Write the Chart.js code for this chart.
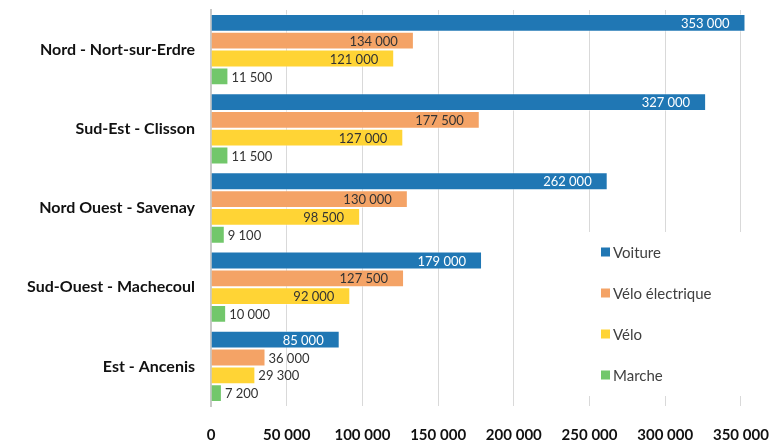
<!DOCTYPE html>
<html>
<head>
<meta charset="utf-8">
<script src="https://cdn.jsdelivr.net/npm/chart.js@4.4.1/dist/chart.umd.min.js"></script>
<style>
  html, body { margin: 0; padding: 0; background: #fff; }
  #wrap { width: 771px; height: 441px; position: relative; }
</style>
</head>
<body>
<div id="wrap"><canvas id="chart"></canvas></div>
<script>
const categories = ["Nord - Nort-sur-Erdre", "Sud-Est - Clisson", "Nord Ouest - Savenay", "Sud-Ouest - Machecoul", "Est - Ancenis"];
const seriesNames = ["Voiture", "Vélo électrique", "Vélo", "Marche"];
const voiture = [353000, 327000, 262000, 179000, 85000];
const veloElectrique = [134000, 177500, 130000, 127500, 36000];
const velo = [121000, 127000, 98500, 92000, 29300];
const marche = [11500, 11500, 9100, 10000, 7200];
const tickValues = [0, 50000, 100000, 150000, 200000, 250000, 300000, 350000];

const colors = ["#2077b4", "#f4a366", "#ffd435", "#72c76b"];
const fmt = (v) => v.toLocaleString("fr-FR");

// labels at the end of each bar, inside when they fit
const barLabels = {
  id: "barLabels",
  afterDatasetsDraw(chart) {
    const ctx = chart.ctx;
    ctx.save();
    ctx.font = "13px Lato";
    ctx.textBaseline = "middle";
    chart.data.datasets.forEach((ds, i) => {
      const meta = chart.getDatasetMeta(i);
      meta.data.forEach((bar, j) => {
        const txt = fmt(ds.data[j]);
        const w = ctx.measureText(txt).width;
        const len = bar.x - bar.base;
        if (len >= w + 30) {
          ctx.textAlign = "right";
          ctx.fillStyle = i === 0 ? "#ffffff" : "#333333";
          ctx.fillText(txt, bar.x - 16, bar.y + 1);
        } else {
          ctx.textAlign = "left";
          ctx.fillStyle = "#333333";
          ctx.fillText(txt, bar.x + 3, bar.y + 1);
        }
      });
    });
    ctx.restore();
  }
};

// legend boxed inside the plot, lower right
const sideLegend = {
  id: "sideLegend",
  afterDraw(chart) {
    const ctx = chart.ctx;
    ctx.save();
    ctx.fillStyle = "#ffffff";
    ctx.fillRect(580, 232, 191, 164);
    ctx.font = "15px Lato";
    ctx.textBaseline = "middle";
    ctx.textAlign = "left";
    chart.data.datasets.forEach((ds, i) => {
      const y = 252 + i * 41;
      ctx.fillStyle = ds.backgroundColor;
      ctx.fillRect(601, y - 4.5, 9, 9);
      ctx.fillStyle = "#404040";
      ctx.fillText(ds.label, 613, y + 1);
    });
    ctx.restore();
  }
};

const seriesData = [voiture, veloElectrique, velo, marche];

new Chart(document.getElementById("chart"), {
  type: "bar",
  plugins: [barLabels, sideLegend],
  data: {
    labels: categories,
    datasets: seriesNames.map((name, i) => ({
      label: name,
      data: seriesData[i],
      backgroundColor: colors[i],
      borderColor: "rgba(255,255,255,0.45)",
      borderWidth: 1,
      borderSkipped: "start",
      categoryPercentage: 0.9,
      barPercentage: 1.0
    }))
  },
  options: {
    indexAxis: "y",
    responsive: true,
    maintainAspectRatio: false,
    animation: false,
    layout: { padding: { top: 10, right: 24, bottom: 0, left: 0 } },
    plugins: {
      legend: { display: false },
      tooltip: { enabled: false }
    },
    scales: {
      x: {
        min: 0,
        max: 354000,
        afterBuildTicks: (scale) => {
          scale.ticks = tickValues.map((v) => ({ value: v }));
        },
        afterFit: (scale) => {
          scale.height = 35;
          scale.paddingLeft = 0;
          scale.paddingRight = 0;
        },
        grid: { color: "#d9d9d9", lineWidth: 1, drawTicks: false },
        border: { display: false },
        ticks: {
          padding: 20,
          color: "#111111",
          font: { family: "Lato", size: 15, weight: "bold" },
          callback: (v) => fmt(v)
        }
      },
      y: {
        afterFit: (scale) => {
          scale.width = 211;
          scale.paddingTop = 0;
          scale.paddingBottom = 0;
        },
        grid: { display: false, drawTicks: false },
        border: { display: true, color: "#c8c8c8", width: 2 },
        ticks: {
          padding: 16,
          color: "#111111",
          font: { family: "Lato", size: 16, weight: "bold" }
        }
      }
    }
  }
});
</script>
</body>
</html>
